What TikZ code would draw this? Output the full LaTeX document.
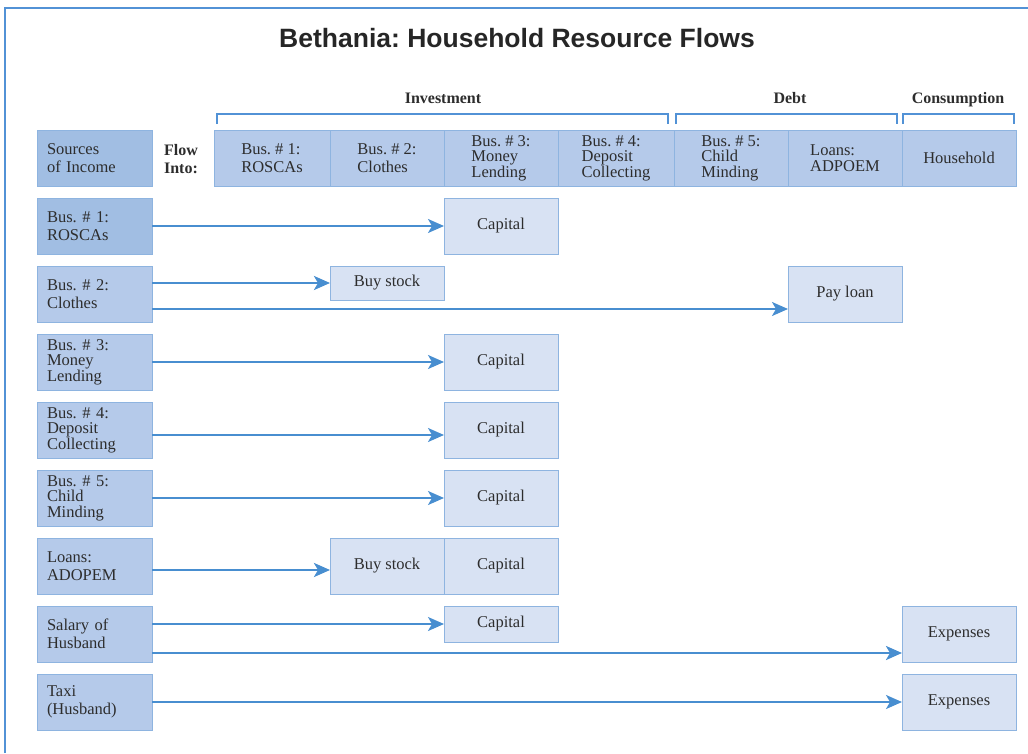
\documentclass[tikz,border=0pt]{standalone}
\usepackage{fontspec}
\setmainfont{Liberation Serif}
\newfontfamily\headfont{Liberation Sans}
\usetikzlibrary{arrows.meta}
\frenchspacing
\definecolor{framebl}{RGB}{82,146,214}
\definecolor{flowbl}{RGB}{72,142,208}
\definecolor{srcdark}{RGB}{161,190,227}
\definecolor{srcfill}{RGB}{181,202,234}
\definecolor{dstfill}{RGB}{216,226,243}
\definecolor{edgebl}{RGB}{142,180,224}
\definecolor{inkgray}{RGB}{45,45,45}

\tikzset{
  box/.style={draw=edgebl, line width=0.8pt, inner sep=0pt, outer sep=0pt,
    anchor=north west, text=inkgray, font=\fontsize{16.5}{18}\selectfont},
  tight/.style={font=\fontsize{16.5}{15.5}\selectfont},
  src/.style={box, fill=srcfill, minimum height=56pt, text width=95pt,
    inner xsep=10pt, align=left},
  hcol/.style={box, fill=srcfill, minimum width=114pt, minimum height=56pt, align=left},
  dst/.style={box, fill=dstfill, minimum width=114pt, minimum height=56pt},
  grp/.style={text=inkgray, font=\fontsize{16}{18}\selectfont\bfseries},
  brk/.style={draw=framebl, line width=2pt},
  flow/.style={draw=flowbl, line width=1.8pt, -{Stealth[length=16pt,width=14pt,inset=4pt]}},
  heavy/.style={line width=2.6pt}
}

\begin{document}
\begin{tikzpicture}[x=1pt, y=-1pt]
\useasboundingbox (0,0) rectangle (1028,753);
\draw[framebl, line width=1.5pt] (5,753) -- (5,8) -- (1028,8);

% title
\node[text=black!85, font=\headfont\fontsize{26.5}{30}\selectfont\bfseries] (title) at (517,38)
  {Bethania: Household Resource Flows};

% groups over the columns
\draw[brk] (217,124) -- (217,114) -- (668,114) -- (668,124);
\draw[brk] (676,124) -- (676,114) -- (897,114) -- (897,124);
\draw[brk] (903,124) -- (903,114) -- (1014,114) -- (1014,124);
\node[grp, anchor=base] (inv) at (443,103) {Investment};
\node[grp, anchor=base] (debt) at (790,103) {Debt};
\node[grp, anchor=base] (cons) at (958,103) {Consumption};

% header row
\node[src, fill=srcdark] (hsrc) at (37,130) {Sources\\of Income};
\node[grp, align=left] (flowinto) at (181,159) {Flow\\Into:};
\node[hcol, minimum width=116pt] (h1) at (214,130) {Bus. \# 1:\\ROSCAs};
\node[hcol] (h2) at (330,130) {Bus. \# 2:\\Clothes};
\node[hcol, tight] (h3) at (444,130) {Bus. \# 3:\\Money\\Lending};
\node[hcol, tight, minimum width=116pt] (h4) at (558,130) {Bus. \# 4:\\Deposit\\Collecting};
\node[hcol, tight] (h5) at (674,130) {Bus. \# 5:\\Child\\Minding};
\node[hcol, tight] (h6) at (788,130) {Loans:\\ADPOEM};
\node[hcol] (h7) at (902,130) {Household};

% sources of income
\node[src, fill=srcdark] (s1) at (37,198) {Bus. \# 1:\\ROSCAs};
\node[src] (s2) at (37,266) {Bus. \# 2:\\Clothes};
\node[src, tight] (s3) at (37,334) {Bus. \# 3:\\Money\\Lending};
\node[src, tight] (s4) at (37,402) {Bus. \# 4:\\Deposit\\Collecting};
\node[src, tight] (s5) at (37,470) {Bus. \# 5:\\Child\\Minding};
\node[src] (s6) at (37,538) {Loans:\\ADOPEM};
\node[src] (s7) at (37,606) {Salary of\\Husband};
\node[src] (s8) at (37,674) {Taxi\\(Husband)};

% where the money goes
\node[dst] (cap1) at (444,198) {Capital};
\node[dst, minimum height=34pt] (buy2) at (330,266) {Buy stock};
\node[dst] (pay2) at (788,266) {Pay loan};
\node[dst] (cap3) at (444,334) {Capital};
\node[dst] (cap4) at (444,402) {Capital};
\node[dst] (cap5) at (444,470) {Capital};
\node[dst] (buy6) at (330,538) {Buy stock};
\node[dst] (cap6) at (444,538) {Capital};
\node[dst, minimum height=36pt] (cap7) at (444,606) {Capital};
\node[dst] (exp7) at (902,606) {Expenses};
\node[dst] (exp8) at (902,674) {Expenses};

% flows
\draw[flow] (s1) -- (cap1);
\draw[flow, heavy] (s2.east |- buy2) -- (buy2);
\draw[flow] ([yshift=-15pt]s2.east) -- ([yshift=-15pt]s2.east -| pay2.west);
\draw[flow] (s3) -- (cap3);
\draw[flow] ([yshift=-5pt]s4.east) -- ([yshift=-5pt]s4.east -| cap4.west);
\draw[flow] (s5) -- (cap5);
\draw[flow, heavy] ([yshift=-4pt]s6.east) -- ([yshift=-4pt]s6.east -| buy6.west);
\draw[flow] (s7.east |- cap7) -- (cap7);
\draw[flow, heavy] ([yshift=-19pt]s7.east) -- ([yshift=-19pt]s7.east -| exp7.west);
\draw[flow] (s8) -- (exp8);
\end{tikzpicture}
\end{document}
